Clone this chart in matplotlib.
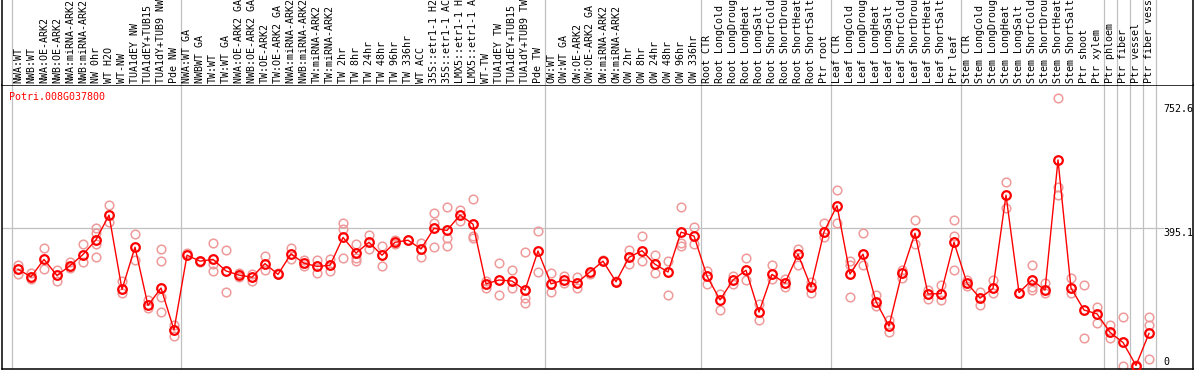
import matplotlib
matplotlib.use("Agg")
import matplotlib.pyplot as plt
import matplotlib.transforms as mtransforms

title = "Potri.008G037800"

labels = [
    "NWA:WT", "NWB:WT", "NWA:OE-ARK2", "NWB:OE-ARK2", "NWA:miRNA-ARK2", "NWB:miRNA-ARK2",
    "NW 0hr", "WT H2O", "WT-NW", "TUA1dEY NW", "TUA1dEY+TUB15 NW", "TUA1dY+TUB9 NW", "Pde NW",
    "NWA:WT GA", "NWBWT GA", "TW:WT", "TW:WT GA", "NWA:OE-ARK2 GA", "NWB:OE-ARK2 GA",
    "TW:OE-ARK2", "TW:OE-ARK2 GA", "NWA:miRNA-ARK2 GA", "NWB:miRNA-ARK2 GA", "TW:miRNA-ARK2",
    "TW:miRNA-ARK2", "TW 2hr", "TW 8hr", "TW 24hr", "TW 48hr", "TW 96hr", "TW 336hr", "WT ACC",
    "35S::etr1-1 H2O", "35S::etr1-1 ACC", "LMX5::etr1-1 H2O", "LMX5::etr1-1 ACC", "WT-TW",
    "TUA1dEY TW", "TUA1dEY+TUB15 TW", "TUA1dY+TUB9 TW", "Pde TW",
    "OW:WT", "OW:WT GA", "OW:OE-ARK2", "OW:OE-ARK2 GA", "OW:miRNA-ARK2", "OW:miRNA-ARK2",
    "OW 2hr", "OW 8hr", "OW 24hr", "OW 48hr", "OW 96hr", "OW 336hr",
    "Root CTR", "Root LongCold", "Root LongDrought", "Root LongHeat", "Root LongSalt",
    "Root ShortCold", "Root ShortDrought", "Root ShortHeat", "Root ShortSalt", "Ptr root",
    "Leaf CTR", "Leaf LongCold", "Leaf LongDrought", "Leaf LongHeat", "Leaf LongSalt",
    "Leaf ShortCold", "Leaf ShortDrought", "Leaf ShortHeat", "Leaf ShortSalt", "Ptr leaf",
    "Stem CTR", "Stem LongCold", "Stem LongDrought", "Stem LongHeat", "Stem LongSalt",
    "Stem ShortCold", "Stem ShortDrought", "Stem ShortHeat", "Stem ShortSalt", "Ptr shoot",
    "Ptr xylem", "Ptr phloem", "Ptr fiber", "Ptr vessel", "Ptr fiber vessel",
]

means = [
    278, 256, 306, 260, 288, 320, 362, 433, 220, 341, 174, 224, 104,
    318, 301, 306, 273, 261, 255, 294, 263, 322, 295, 286, 289, 369, 324, 355, 318,
    355, 361, 336, 395, 389, 433, 407, 236, 247, 244, 218, 330,
    236, 247, 239, 270, 301, 242, 312, 331, 292, 270, 384, 373,
    258, 190, 247, 275, 155, 263, 238, 321, 227, 385,
    460, 264, 321, 185, 115, 268, 381, 207, 208, 355,
    238, 195, 223, 490, 211, 247, 218, 591, 224, 161, 150,
    97, 68, 2, 94,
]

replicates = [
    [290, 263], [268, 251], [338, 278], [276, 245], [299, 280], [349, 299],
    [397, 381, 349, 312], [461, 414], [244, 209], [379, 303], [190, 166],
    [335, 301, 199, 154], [117, 87],
    [325], [298], [352, 293, 272], [333, 214], [266, 255], [264, 245], [315, 276],
    [266], [339, 308], [304, 287], [304, 268], [307, 272], [409, 392, 309],
    [349, 309, 302], [376, 336], [344, 286], [362, 349], [363], [352, 314],
    [438, 409, 341], [455, 366, 344], [448, 417], [479, 374, 366], [245, 223],
    [295, 203], [276, 223], [327, 194, 180], [387, 269],
    [266, 212], [258, 238], [255, 223], [265], [305], [245], [333, 292],
    [373, 301], [320, 266], [301, 203], [455, 354, 345], [399, 349],
    [274, 235], [207, 161], [258, 235], [309, 247], [178, 132], [289, 249],
    [249, 226], [336, 290], [242, 209], [409, 371],
    [505, 409], [301, 290, 197], [381, 289], [204, 172], [132, 97], [276, 252],
    [418, 350], [218, 192], [233, 190], [418, 373, 275],
    [247, 230], [213, 175], [247, 209], [527, 452], [211], [290, 228, 218],
    [239, 209], [768, 514, 490], [252, 209], [233, 80], [170, 123],
    [118, 80], [142, 0], [4], [142, 118, 20],
]

group_bounds = [0, 13, 41, 53, 63, 73, 84, 85, 86, 87, 88]
axis_ticks = [752.6, 395.1]

W, H = 1194, 370
fig = plt.figure(figsize=(W / 100, H / 100), dpi=100)

def px_rect(x0, y0, x1, y1):
    return [x0 / W, 1 - y1 / H, (x1 - x0) / W, (y1 - y0) / H]

xlim = ((2 - 18) / 13, (1193 - 18) / 13)
ylim = ((366.2 - 369) / 0.349, (366.2 - 85) / 0.349)

ax = fig.add_axes(px_rect(2, 85, 1193, 369))
axl = fig.add_axes(px_rect(2, 0, 1193, 85))

for a in (ax, axl):
    a.set_xlim(*xlim)
    a.set_xticks([])
    a.set_yticks([])
    for s in a.spines.values():
        s.set_color("black")
        s.set_linewidth(1.1)
    for b in group_bounds:
        a.axvline(b - 0.5, color="#c0c0c0", lw=0.9, zorder=0)
axl.spines["top"].set_visible(False)
axl.spines["bottom"].set_visible(False)
axl.set_ylim(0, 1)
ax.set_ylim(*ylim)

mono = "DejaVu Sans Mono"
gx_end = (88.1 - xlim[0]) / (xlim[1] - xlim[0])
ax.axhline(axis_ticks[1], xmin=0, xmax=gx_end, color="#c0c0c0", lw=0.9, zorder=0)

for i, reps in enumerate(replicates):
    ax.plot([i] * len(reps), reps, linestyle="none", marker="o", ms=6.2,
            mfc="none", mec="#ee9a9a", mew=1.1, zorder=2, clip_on=False)

x = list(range(len(means)))
ax.plot(x, means, color="red", lw=1.0, zorder=3)
ax.plot(x, means, linestyle="none", marker="o", ms=6.2, mfc="none",
        mec="red", mew=1.6, zorder=4, clip_on=False)

trans = mtransforms.blended_transform_factory(axl.transData, axl.transAxes)
for i, lab in enumerate(labels):
    axl.text(i, 2 / 85, lab, rotation=90, ha="center", va="bottom",
             family=mono, fontsize=7.2, transform=trans, color="black")

ax.text(88.1, axis_ticks[0], "752.6", ha="left", va="top", family=mono, fontsize=7.2)
ax.text(88.1, axis_ticks[1], "395.1", ha="left", va="top", family=mono, fontsize=7.2)
ax.text(88.1, 3, "0", ha="left", va="baseline", family=mono, fontsize=7.2)

fig.text(9 / W, 1 - 97 / H, title, color="red", family=mono, fontsize=7.2,
         ha="left", va="center")

fig.savefig("out.png", dpi=100)
